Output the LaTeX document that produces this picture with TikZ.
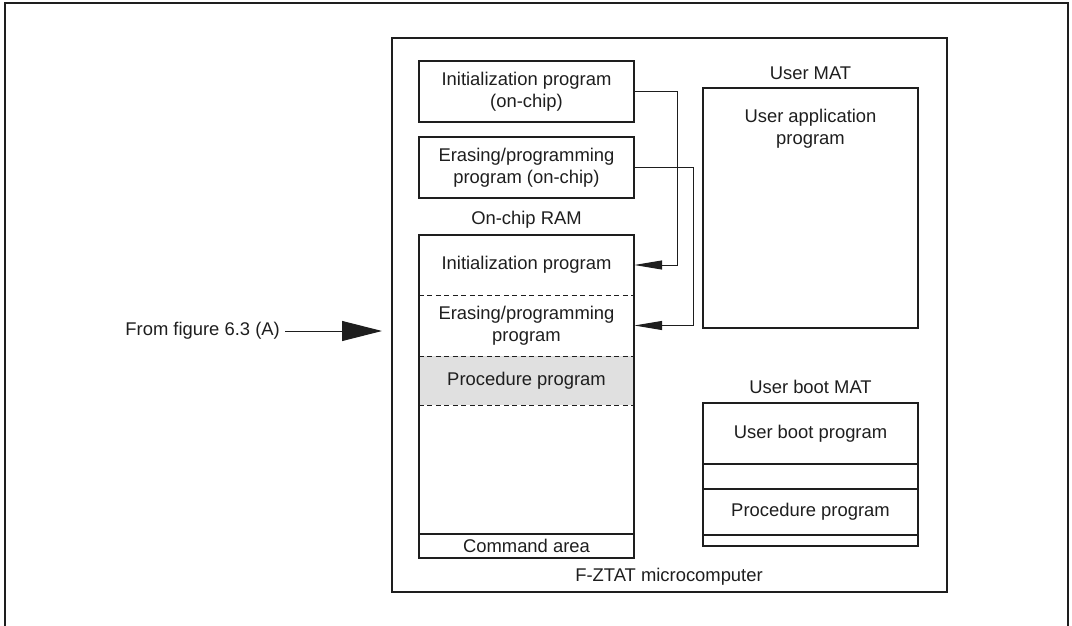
\documentclass[tikz,border=0pt]{standalone}
\usepackage{fontspec}
\setmainfont{Liberation Sans}
\usetikzlibrary{arrows.meta,calc}
\definecolor{ink}{HTML}{1E1E1E}
\definecolor{shade}{HTML}{E0E0E0}
\tikzset{
  txt/.style={font=\fontsize{18.4}{22}\selectfont, text=ink, align=center, inner sep=0pt},
  blockbox/.style={txt, draw=ink, line width=1.6pt, minimum width=215pt},
  region/.style={txt, minimum width=215pt},
  sep/.style={draw=ink, line width=1.5pt},
  dsep/.style={draw=ink, line width=1.3pt, dash pattern=on 5pt off 3.5pt},
  conn/.style={draw=ink, line width=1pt, -{Triangle[length=28pt,width=9pt]}},
  bigconn/.style={draw=ink, line width=1pt, -{Triangle[length=40pt,width=20pt]}}
}
\begin{document}
\begin{tikzpicture}[x=1pt,y=-1pt]
\useasboundingbox (0,0) rectangle (1072,626);
% outer page frame (open at the bottom)
\draw[ink, line width=2.5pt] (5,626) -- (5,3) -- (1068,3) -- (1068,626);

% microcomputer frame
\node[draw=ink, line width=1.8pt, minimum width=555pt, minimum height=554pt, inner sep=0pt] (mcu) at (669.5,315) {};
\node[txt] (mculabel) at (669,577) {F-ZTAT microcomputer};

% on-chip programs
\node[blockbox, minimum height=61pt] (initchip) at (526.5,91.5) {Initialization program\\(on-chip)};
\node[blockbox, minimum height=61pt] (erasechip) at (526.5,167.5) {Erasing/programming\\program (on-chip)};

% on-chip RAM
\node[txt] (ramlabel) at (526.5,220) {On-chip RAM};
\node[region, minimum height=60pt] (ramInit) at (526.5,265) {Initialization program};
\node[region, minimum height=61pt] (ramErase) at (526.5,325.5) {Erasing/programming\\program};
\node[region, minimum height=49pt, fill=shade] (ramProc) at (526.5,380.5) {Procedure program};
\node[region, minimum height=129pt] (ramFree) at (526.5,469.5) {};
\node[region, minimum height=24pt] (ramCmd) at (526.5,546) {Command area};
\draw[dsep] (ramInit.south west) -- (ramInit.south east);
\draw[dsep] (ramErase.south west) -- (ramErase.south east);
\draw[dsep] (ramProc.south west) -- (ramProc.south east);
\draw[sep] (ramCmd.north west) -- (ramCmd.north east);
\draw[ink, line width=1.6pt] (ramInit.north west) rectangle (ramCmd.south east);

% user MAT
\node[txt] (matlabel) at (810.5,73) {User MAT};
\node[blockbox, minimum height=240pt] (usermat) at (810.5,208) {};
\node[txt] (userapp) at (810.5,129) {User application\\program};

% user boot MAT
\node[txt] (bootlabel) at (810.5,387) {User boot MAT};
\node[region, minimum height=61pt] (bootProg) at (810.5,433.5) {User boot program};
\node[region, minimum height=25pt] (bootGap) at (810.5,476.5) {};
\node[region, minimum height=46pt] (bootProc) at (810.5,512) {Procedure program};
\node[region, minimum height=11pt] (bootEnd) at (810.5,540.5) {};
\draw[sep] (bootProg.south west) -- (bootProg.south east);
\draw[sep, line width=2pt] (bootGap.south west) -- (bootGap.south east);
\draw[sep, line width=2pt] (bootProc.south west) -- (bootProc.south east);
\draw[ink, line width=1.6pt] (bootProg.north west) rectangle (bootEnd.south east);

% transfers into RAM
\draw[conn] (initchip.east) -| ([xshift=43pt]ramInit.east) -- (ramInit.east);
\draw[conn] (erasechip.east) -| ([xshift=59pt]ramErase.east) -- (ramErase.east);

% entry from the previous figure
\node[txt, anchor=east] (from) at (280,331) {From figure 6.3 (A)};
\coordinate (entry) at (382,331);
\draw[bigconn] ([xshift=5pt]from.east) -- (entry);
\end{tikzpicture}
\end{document}
